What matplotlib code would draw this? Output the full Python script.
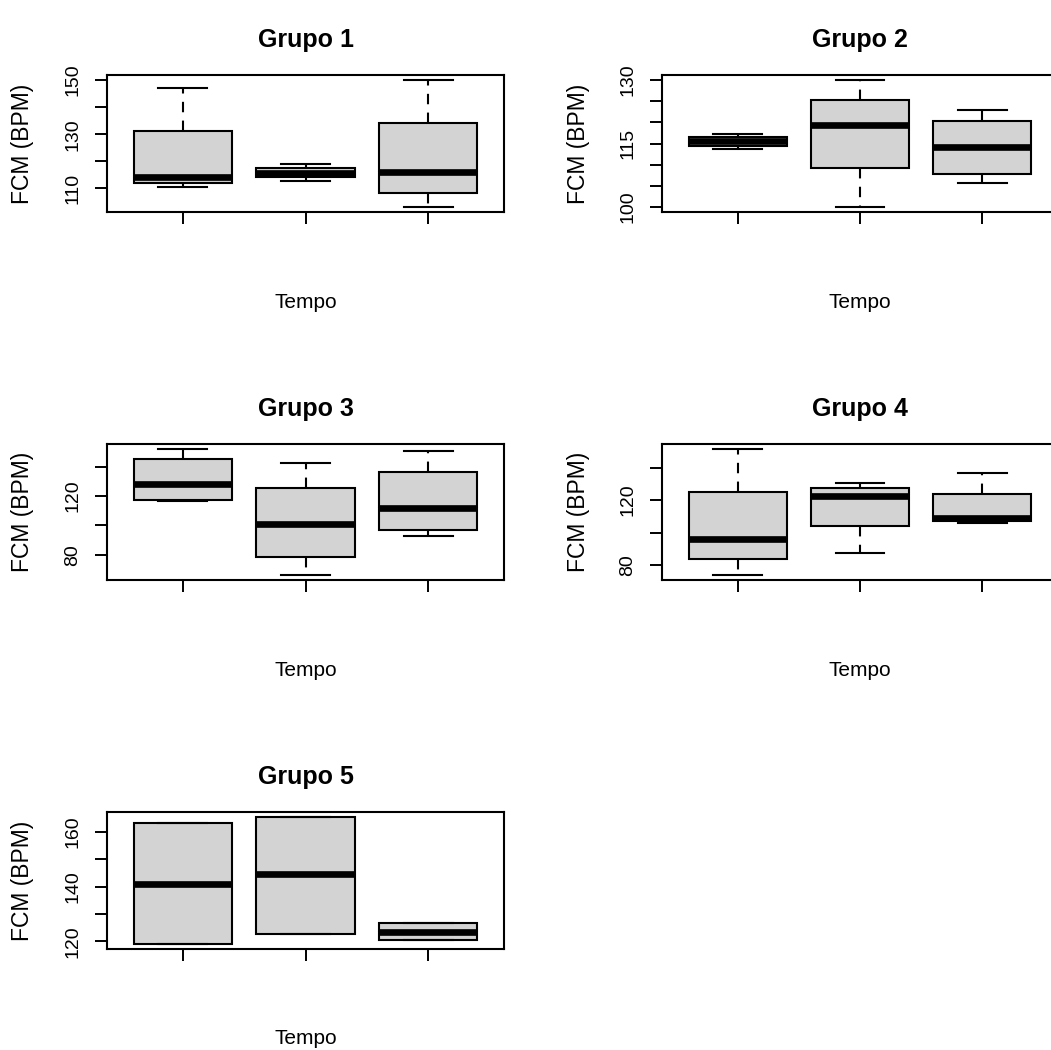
import matplotlib
matplotlib.use("Agg")
import matplotlib.pyplot as plt

plt.rcParams["font.family"] = ["Liberation Sans", "DejaVu Sans"]

grupos = ["Grupo 1", "Grupo 2", "Grupo 3", "Grupo 4", "Grupo 5"]
tempos = [1, 2, 3]

# five-number summaries, one list per group
whislo = [
    [110.6, 112.9, 103.2],
    [113.8, 100.0, 105.7],
    [116.3, 66.4, 92.6],
    [73.9, 87.7, 106.1],
    [119.0, 122.7, 120.6],
]
q1 = [
    [112.1, 114.2, 108.3],
    [114.3, 109.2, 107.7],
    [117.4, 78.8, 96.8],
    [83.9, 103.9, 107.1],
    [119.0, 122.7, 120.6],
]
med = [
    [114.4, 115.8, 116.0],
    [115.5, 119.4, 114.1],
    [128.5, 100.7, 111.7],
    [96.2, 122.7, 108.8],
    [140.8, 144.5, 123.5],
]
q3 = [
    [131.3, 117.7, 134.2],
    [116.5, 125.2, 120.4],
    [145.0, 125.5, 136.5],
    [125.2, 127.5, 123.7],
    [163.2, 165.4, 126.5],
]
whishi = [
    [147.1, 119.0, 150.0],
    [117.2, 130.0, 122.9],
    [151.9, 142.3, 150.3],
    [151.4, 130.2, 136.4],
    [163.2, 165.4, 126.5],
]

yticks = [
    [110, 120, 130, 140, 150],
    [100, 105, 110, 115, 120, 125, 130],
    [80, 100, 120, 140],
    [80, 100, 120, 140],
    [120, 130, 140, 150, 160],
]
ylabels_shown = [
    [110, 130, 150],
    [100, 115, 130],
    [80, 120],
    [80, 120],
    [120, 140, 160],
]

W, H = 1051, 1050
fig = plt.figure(figsize=(W / 100, H / 100), dpi=100)

# axes boxes in pixels: (left, right) and (top, bottom)
col_x = [(107, 504), (662, 1058)]
row_y = [(75, 212), (444, 580), (812, 949)]

for i, nome in enumerate(grupos):
    r, c = divmod(i, 2)
    x0, x1 = col_x[c]
    y0, y1 = row_y[r]
    ax = fig.add_axes([x0 / W, 1 - y1 / H, (x1 - x0) / W, (y1 - y0) / H])

    stats = []
    for j in range(len(tempos)):
        stats.append({
            "med": med[i][j], "q1": q1[i][j], "q3": q3[i][j],
            "whislo": whislo[i][j], "whishi": whishi[i][j], "fliers": [],
        })
    ax.bxp(
        stats,
        positions=tempos,
        widths=0.8,
        capwidths=0.4,
        patch_artist=True,
        showfliers=False,
        boxprops={"facecolor": "#d3d3d3", "edgecolor": "black", "linewidth": 1.5},
        medianprops={"color": "black", "linewidth": 4.8, "solid_capstyle": "butt"},
        whiskerprops={"color": "black", "linewidth": 1.5, "linestyle": (0, (5, 4))},
        capprops={"color": "black", "linewidth": 1.5},
    )
    ax.set_xlim(0.38, 3.62)
    ax.margins(y=0.04)
    ax.autoscale(axis="y")

    ax.set_xticks(tempos)
    ax.set_xticklabels([])
    ax.set_yticks(yticks[i])
    ax.set_yticklabels([str(t) if t in ylabels_shown[i] else "" for t in yticks[i]],
                       rotation=90, va="center")
    ax.tick_params(length=8.5, width=1.4, direction="out", labelsize=14, pad=10)
    for s in ax.spines.values():
        s.set_linewidth(1.5)

    ax.annotate(nome, xy=(0.5, 1), xycoords="axes fraction",
                xytext=(0, 35), textcoords="offset pixels",
                ha="center", va="center", fontsize=18, fontweight="bold")
    ax.annotate("Tempo", xy=(0.5, 0), xycoords="axes fraction",
                xytext=(0, -90), textcoords="offset pixels",
                ha="center", va="center", fontsize=15)
    ax.annotate("FCM (BPM)", xy=(0, 0.5), xycoords="axes fraction",
                xytext=(-84, 0), textcoords="offset pixels",
                ha="center", va="center", rotation=90, fontsize=16.5)

fig.savefig("out.png", dpi=100)
